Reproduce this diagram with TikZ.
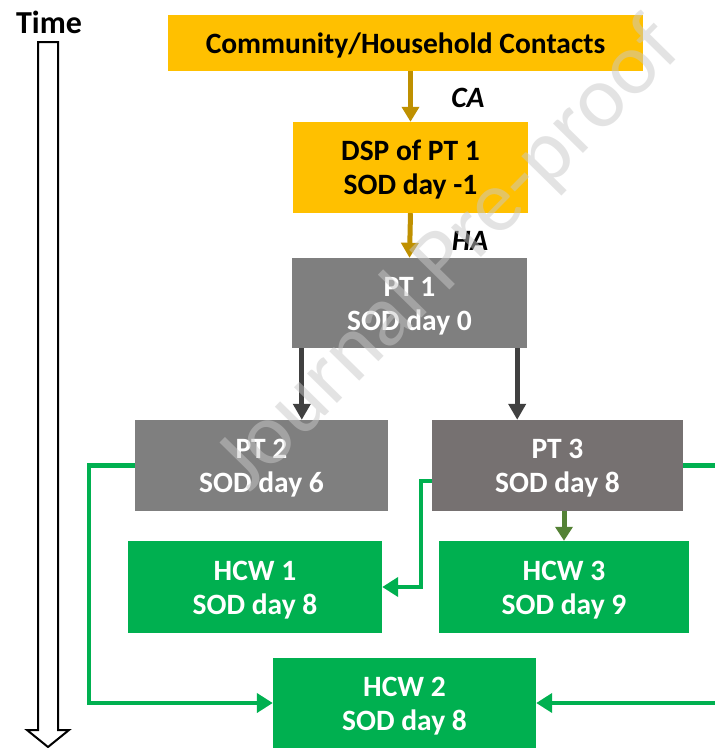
\documentclass[tikz,border=0pt]{standalone}
\usepackage{fontspec}
\setmainfont{Carlito}
\usetikzlibrary{arrows.meta,calc}
\definecolor{gold}{HTML}{FFC000}
\definecolor{goldline}{HTML}{BF9000}
\definecolor{ptgray}{HTML}{7F7F7F}
\definecolor{ptwarm}{HTML}{767171}
\definecolor{darkline}{HTML}{404040}
\definecolor{hcwgreen}{HTML}{00B050}
\definecolor{olive}{HTML}{548235}
\definecolor{wmark}{HTML}{C8C8C8}
% strut that sets the height of a box's first line
\newcommand\bxs{\rule{0pt}{25pt}}
\begin{document}
\begin{tikzpicture}[x=1pt,y=-1pt,
  box/.style={rectangle, inner sep=0pt, align=center,
    font=\fontsize{29.5}{34}\selectfont\bfseries},
  goldbox/.style={box, fill=gold, text=black},
  graybox/.style={box, fill=ptgray, text=white},
  warmbox/.style={box, fill=ptwarm, text=white},
  greenbox/.style={box, fill=hcwgreen, text=white},
  lbl/.style={font=\fontsize{29.5}{34}\selectfont\bfseries\itshape},
  goldarrow/.style={draw=goldline, line width=5pt,
    -{Triangle[width=17pt,length=15pt]}},
  darkarrow/.style={draw=darkline, line width=5pt,
    -{Triangle[width=17pt,length=16pt]}},
  olivearrow/.style={draw=olive, line width=5pt,
    -{Triangle[width=17pt,length=14pt]}},
  gline/.style={draw=hcwgreen, line width=4.5pt,
    -{Triangle[width=19pt,length=16pt]}},
]
\useasboundingbox (0,0) rectangle (715,748);

% time axis
\node[font=\fontsize{32}{36}\selectfont\bfseries] (time) at (49,22) {Time};
\draw[line width=2pt, fill=white, line join=miter]
  (38,42) -- (58,42) -- (58,730) -- (69,730) -- (48,747)
  -- (27,730) -- (38,730) -- cycle;

% boxes
\node[goldbox, minimum width=475pt, minimum height=56pt] (comm) at (405.5,43)
  {\bxs Community/Household Contacts};
\node[goldbox, minimum width=235pt, minimum height=91pt] (dsp) at (410.5,167.5)
  {\bxs DSP of PT 1\\SOD day -1};
\node[graybox, minimum width=235pt, minimum height=90pt] (pt1) at (409.5,303)
  {\bxs PT 1\\SOD day 0};
\node[graybox, minimum width=253pt, minimum height=91pt] (pt2) at (261.5,465.5)
  {\bxs PT 2\\SOD day 6};
\node[warmbox, minimum width=251pt, minimum height=91pt] (pt3) at (557.5,465.5)
  {\bxs PT 3\\SOD day 8};
\node[greenbox, minimum width=254pt, minimum height=92pt] (hcw1) at (255,587)
  {\bxs HCW 1\\SOD day 8};
\node[greenbox, minimum width=250pt, minimum height=92pt] (hcw3) at (564,587)
  {\bxs HCW 3\\SOD day 9};
\node[greenbox, minimum width=263pt, minimum height=90pt] (hcw2) at (404.5,703)
  {\bxs HCW 2\\SOD day 8};

% transmission arrows
\draw[goldarrow] (dsp.north |- comm.south) -- (dsp.north);
\node[lbl] (ca) at (468,98) {CA};
\draw[goldarrow] (dsp.south) -- (pt1.north);
\node[lbl] (ha) at (470,241) {HA};

\coordinate (p1l) at ($(pt1.south west)+(10,0)$);
\coordinate (p1r) at ($(pt1.south east)+(-10,0)$);
\draw[darkarrow] (p1l) -- (p1l |- pt2.north);
\draw[darkarrow] (p1r) -- (p1r |- pt3.north);

\draw[olivearrow] (hcw3.north |- pt3.south) -- (hcw3.north);

% staff transmission routes
\coordinate (pt3low) at ($(pt3.west)+(0,15.5)$);
\draw[gline] (pt2.west) -- (89,465.5) |- (hcw2.west);
\draw[gline] (pt3low) -- (421,481) |- (hcw1.east);
\draw[gline] (pt3.east) -- (730,465.5) |- (hcw2.east);

% watermark
\node[rotate=45.5, text=wmark, opacity=0.5,
  font=\fontsize{88}{88}\selectfont] (wm) at (450,256) {Journal Pre-proof};
\end{tikzpicture}
\end{document}
